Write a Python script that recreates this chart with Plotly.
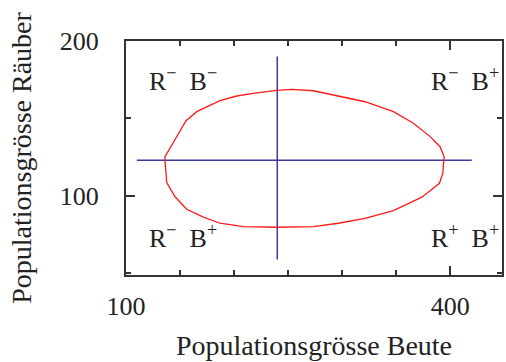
import plotly.graph_objects as go

# orbit of the predator-prey system (prey, predator)
beute = [136.1, 137.7, 145.4, 156.2, 171.6, 187.0, 208.6, 239.5, 273.4, 296.6,
         321.3, 347.5, 373.8, 390.1, 393.2, 394.4, 394.4, 390.7, 381.5, 366.0,
         347.5, 321.3, 293.5, 273.4, 253.4, 239.5, 219.4, 202.5, 187.0, 165.5,
         155.6, 143.8, 136.1, 136.1]
raeuber = [123.2, 108.6, 99.5, 91.4, 86.3, 82.4, 80.2, 79.8, 80.2, 82.4,
           85.6, 90.5, 99.2, 108.2, 114.6, 123.2, 125.4, 131.8, 138.3, 146.9,
           154.4, 160.8, 165.2, 167.9, 168.8, 168.2, 166.3, 164.5, 161.5, 154.4,
           148.6, 134.0, 125.4, 123.2]

# equilibrium cross
hline_x = [110, 420]
hline_y = [123, 123]
vline_x = [240, 240]
vline_y = [59, 190]

quadrant_labels = ['R<sup>\u2212</sup>  B<sup>\u2212</sup>', 'R<sup>\u2212</sup>  B<sup>+</sup>',
                   'R<sup>\u2212</sup>  B<sup>+</sup>', 'R<sup>+</sup>  B<sup>+</sup>']
label_x = [119, 447, 119, 447]
label_y = [175, 175, 74, 74]
label_anchor = ['left', 'right', 'left', 'right']

font_family = 'Liberation Serif'
axis_color = '#333333'
text_color = '#222222'

fig = go.Figure()
fig.add_trace(go.Scatter(x=hline_x, y=hline_y, mode='lines',
                         line=dict(color='#3a3a9e', width=1.5)))
fig.add_trace(go.Scatter(x=vline_x, y=vline_y, mode='lines',
                         line=dict(color='#3a3a9e', width=1.5)))
fig.add_trace(go.Scatter(x=beute, y=raeuber, mode='lines',
                         line=dict(color='#ff1a1a', width=1.3)))

for txt, x, y, anc in zip(quadrant_labels, label_x, label_y, label_anchor):
    fig.add_annotation(x=x, y=y, text=txt, showarrow=False, xanchor=anc,
                       yanchor='middle', font=dict(family=font_family, size=26, color=text_color))

fig.update_layout(
    width=506, height=362,
    margin=dict(l=126, r=4, t=41, b=87, autoexpand=False),
    plot_bgcolor='white', paper_bgcolor='white',
    showlegend=False,
    font=dict(family=font_family, size=23, color=text_color),
)
fig.update_xaxes(
    range=[100, 448], tick0=100, dtick=300, ticks='inside', ticklen=9,
    tickwidth=1.5, tickcolor=axis_color, tickfont=dict(size=26),
    minor=dict(dtick=50, tick0=100, ticks='inside', ticklen=5, tickwidth=1.5, tickcolor=axis_color),
    showline=True, linecolor=axis_color, linewidth=2, mirror='allticks',
    showgrid=False, zeroline=False, ticklabelstandoff=7, automargin=False,
    title=dict(text='Populationsgrösse Beute', standoff=15),
)
fig.update_yaxes(
    range=[49, 200], tick0=100, dtick=100, ticks='inside', ticklen=9,
    tickwidth=1.5, tickcolor=axis_color, tickfont=dict(size=26),
    minor=dict(dtick=50, tick0=100, ticks='inside', ticklen=5, tickwidth=1.5, tickcolor=axis_color),
    showline=True, linecolor=axis_color, linewidth=2, mirror='allticks',
    showgrid=False, zeroline=False, ticklabelstandoff=20, automargin=False,
    title=dict(text='Populationsgrösse Räuber', standoff=20),
)

# the page's default body margin would shift the figure
fig.write_html("out.html", config={'displayModeBar': False},
               post_script="document.body.style.margin='0';")
